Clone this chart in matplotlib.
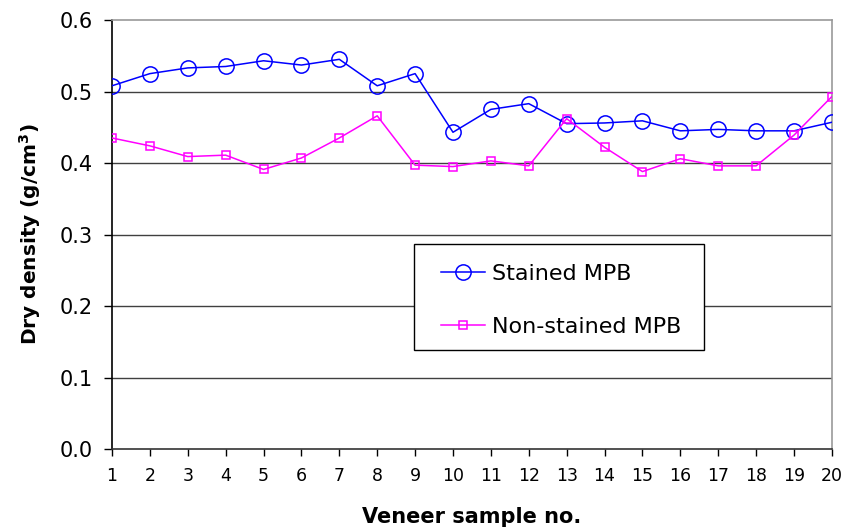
import matplotlib
matplotlib.use("Agg")
import matplotlib.pyplot as plt
from matplotlib.patches import Rectangle

samples = list(range(1, 21))
stained = [0.508, 0.525, 0.533, 0.535, 0.543, 0.537, 0.545, 0.508, 0.525, 0.443,
           0.475, 0.483, 0.455, 0.456, 0.459, 0.445, 0.447, 0.445, 0.445, 0.457]
non_stained = [0.435, 0.424, 0.409, 0.411, 0.391, 0.407, 0.435, 0.466, 0.397, 0.395,
               0.403, 0.396, 0.462, 0.422, 0.388, 0.406, 0.396, 0.396, 0.439, 0.493]
yticks = [0.0, 0.1, 0.2, 0.3, 0.4, 0.5, 0.6]

plt.rcParams['font.family'] = ['DejaVu Sans']
plt.rcParams['mathtext.fontset'] = 'dejavusans'

fig = plt.figure(figsize=(8.45, 5.32), dpi=100)
ax = fig.add_axes([0.1325, 0.156, 0.852, 0.8064])

for y in yticks[1:-1]:
    ax.axhline(y, color='#404040', lw=1.0, zorder=1)

ax.plot(samples, stained, color='#0000FF', lw=1.1, marker='o', ms=11,
        mfc='none', mec='#0000FF', mew=1.1, label='Stained MPB', zorder=3)
ax.plot(samples, non_stained, color='#FF00FF', lw=1.1, marker='s', ms=5.5,
        mfc='none', mec='#FF00FF', mew=1.1, label='Non-stained MPB', zorder=3)

ax.set_xlim(1, 20)
ax.set_ylim(0, 0.6)
ax.set_xticks(samples)
ax.set_yticks(yticks)
ax.set_yticklabels([f"{v:.1f}" for v in yticks])
ax.tick_params(axis='both', direction='out', length=5, width=1, colors='black')
ax.tick_params(axis='x', labelsize=12.5, pad=8)
ax.tick_params(axis='y', labelsize=15, pad=8, length=6)

ax.spines['left'].set_color('black')
ax.spines['bottom'].set_color('#333333')
ax.spines['top'].set_color('#999999')
ax.spines['right'].set_color('#999999')
for s in ax.spines.values():
    s.set_linewidth(1.2)

ax.set_xlabel('Veneer sample no.', fontsize=15, fontweight='bold', labelpad=16)
ax.set_ylabel('Dry density (g/cm$^\\mathbf{3}$)', fontsize=14.5, fontweight='bold', labelpad=12)

# legend frame drawn as a box, legend itself without frame
frame = Rectangle((0.4194, 0.2308), 0.4028, 0.2471, transform=ax.transAxes,
                  facecolor='white', edgecolor='black', lw=1.0, zorder=4)
ax.add_patch(frame)
leg = ax.legend(loc='upper left', bbox_to_anchor=(0.457, 0.432),
                fontsize=16, frameon=False, borderpad=0, labelspacing=1.5,
                handlelength=2.0, handletextpad=0.3, borderaxespad=0)
leg.set_zorder(5)

fig.savefig('out.png', dpi=100, facecolor='white')
